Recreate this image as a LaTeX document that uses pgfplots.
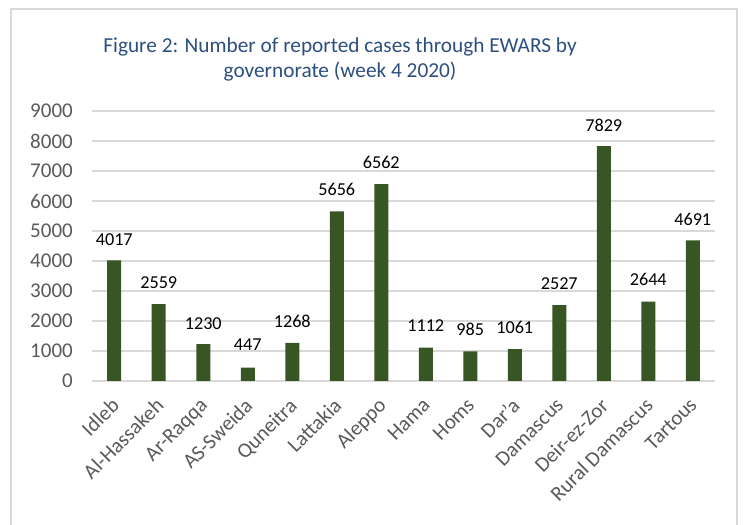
\documentclass[border=0pt]{standalone}
\usepackage{pgfplots}
\pgfplotsset{compat=1.18}
\usepackage{fontspec}
\setmainfont{Carlito}
\definecolor{bargreen}{HTML}{375623}
\definecolor{titleblue}{HTML}{2D4F7F}
\definecolor{gridgray}{HTML}{D9D9D9}
\definecolor{ticktext}{HTML}{595959}
\pgfplotstableread{
x val  ly
0 4017 4533
1 2559 3090
2 1230 1733
3 447  1033
4 1268 1777
5 5656 6177
6 6562 7067
7 1112 1643
8 985  1510
9 1061 1577
10 2527 3043
11 7829 8310
12 2644 3177
13 4691 5177
}\datatable
\begin{document}
\begin{tikzpicture}
\useasboundingbox (0pt,0pt) rectangle (745pt,525pt);
\draw[gridgray, line width=1.5pt] (11pt,-10pt) rectangle (737pt,516pt);
\node[titleblue, anchor=base, font=\fontsize{21.3}{25}\selectfont] at (340pt,472pt) {Figure 2: Number of reported cases through EWARS by};
\node[titleblue, anchor=base, font=\fontsize{21.3}{25}\selectfont] at (340pt,447pt) {governorate (week 4 2020)};
\begin{axis}[
  at={(92pt,144pt)}, anchor=south west,
  scale only axis, width=623pt, height=270pt,
  xmin=-0.5, xmax=13.5, ymin=0, ymax=9000,
  ytick={0,1000,...,9000},
  xtick={0,...,13},
  xticklabels={Idleb,Al-Hassakeh,Ar-Raqqa,AS-Sweida,Quneitra,Lattakia,Aleppo,Hama,Homs,Dar'a,Damascus,Deir-ez-Zor,Rural Damascus,Tartous},
  axis line style={draw=none},
  ymajorgrids, grid style={gridgray, line width=1.5pt},
  major tick length=0pt,
  /pgf/number format/assume math mode=true,
  scaled y ticks=false,
  yticklabel={\fontsize{21}{24}\selectfont\color{ticktext}\pgfmathprintnumber[1000 sep={}]{\tick}\hspace*{19pt}},
  every tick label/.append style={text=ticktext},
  every y tick label/.append style={anchor=east, inner sep=0pt},
  every x tick label/.append style={font=\fontsize{21}{24}\selectfont, rotate=45, anchor=north east, inner sep=0pt, xshift=-14pt, yshift=-8pt},
  clip=false,
]
\draw[gridgray, line width=1.5pt] (axis cs:-0.5,0) -- (axis cs:13.5,0);
\addplot[ybar, bar width=14pt, bar shift=0pt, fill=bargreen, draw=none] table[x=x, y=val] {\datatable};
\addplot[only marks, mark=none, point meta=explicit,
  nodes near coords={\pgfmathprintnumber[1000 sep={}]{\pgfplotspointmeta}},
  every node near coord/.append style={font=\fontsize{18.2}{22}\selectfont, text=black, anchor=base, inner sep=0pt, yshift=0pt},
  ] table[x=x, y=ly, meta=val] {\datatable};
\end{axis}
\end{tikzpicture}
\end{document}
